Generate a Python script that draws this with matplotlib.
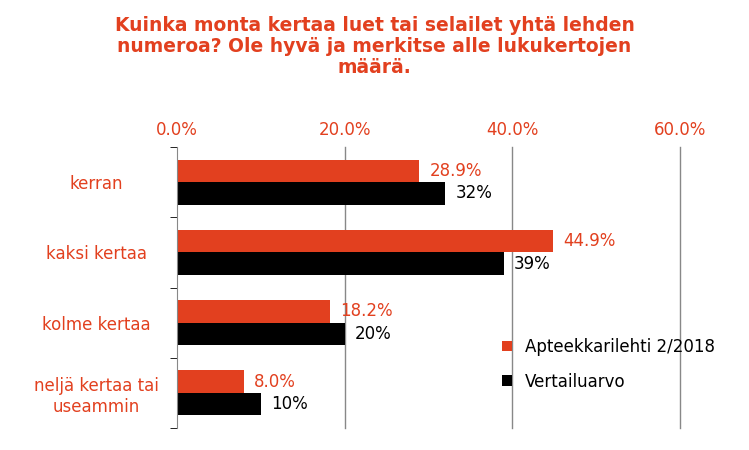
import matplotlib
matplotlib.use("Agg")
import matplotlib.pyplot as plt
from matplotlib.ticker import FuncFormatter

categories = ["kerran", "kaksi kertaa", "kolme kertaa", "neljä kertaa tai\nuseammin"]
apteekki = [28.9, 44.9, 18.2, 8.0]
vertailu = [32, 39, 20, 10]
apteekki_labels = ["28.9%", "44.9%", "18.2%", "8.0%"]
vertailu_labels = ["32%", "39%", "20%", "10%"]
ticks = [0, 20, 40, 60]

RED = "#E2401F"
fig = plt.figure(figsize=(7.49, 4.5), dpi=100)
ax = fig.add_axes([177/749, 22/450, 503/749, 281/450])
ax.set_xlim(0, 60)
ax.set_ylim(len(categories) - 0.5, -0.5)
h = 0.32
ys = range(len(categories))
for i in ys:
    ax.barh(i - h/2, apteekki[i], height=h, color=RED, label="Apteekkarilehti 2/2018" if i == 0 else None)
    ax.barh(i + h/2, vertailu[i], height=h, color="black", label="Vertailuarvo" if i == 0 else None)
    ax.text(apteekki[i] + 1.2, i - h/2, apteekki_labels[i], color=RED, va="center", fontsize=12)
    ax.text(vertailu[i] + 1.2, i + h/2, vertailu_labels[i], color="black", va="center", fontsize=12)
ax.set_yticks(list(ys))
ax.set_yticklabels(categories, color=RED, fontsize=12, ha="center")
ax.tick_params(axis="y", length=0, pad=58)
ax.set_yticks([-0.5, 0.5, 1.5, 2.5, 3.5], minor=True)
ax.tick_params(axis="y", which="minor", length=5, direction="out")
ax.xaxis.tick_top()
ax.set_xticks(ticks)
ax.xaxis.set_major_formatter(FuncFormatter(lambda v, p: f"{v:.1f}%"))
ax.tick_params(axis="x", colors=RED, labelsize=12, length=0, pad=6)
for t in ticks[1:]:
    ax.axvline(t, color="#888888", linewidth=1, zorder=0, clip_on=False)
for s in ["top", "right", "bottom"]:
    ax.spines[s].set_visible(False)
ax.spines["left"].set_color("#888888")
ax.legend(loc="lower right", bbox_to_anchor=(1.1, 0.08), frameon=False, fontsize=12,
          handlelength=0.6, handleheight=0.6, labelspacing=1.0)
fig.text(0.5, 0.965, "Kuinka monta kertaa luet tai selailet yhtä lehden\nnumeroa? Ole hyvä ja merkitse alle lukukertojen\nmäärä.",
         ha="center", va="top", color=RED, fontsize=13.5, fontweight="bold", linespacing=1.15)
fig.savefig("out.png", dpi=100)
